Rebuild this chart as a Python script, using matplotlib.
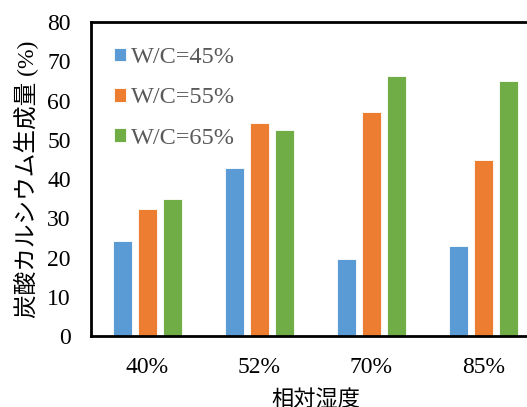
import numpy as np
import matplotlib
matplotlib.use("Agg")
import matplotlib.pyplot as plt

plt.rcParams['font.family'] = ['Liberation Serif', 'Noto Sans CJK JP']

# 相対湿度ごとの炭酸カルシウム生成量
humidity = ["40%", "52%", "70%", "85%"]
series_names = ["W/C=45%", "W/C=55%", "W/C=65%"]
wc45 = [24.1, 42.7, 19.5, 23.0]
wc55 = [32.4, 54.3, 57.1, 44.8]
wc65 = [34.9, 52.6, 66.2, 65.1]
colors = ["#5B9BD5", "#ED7D31", "#70AD47"]

fig = plt.figure(figsize=(5.27, 4.07), dpi=100)
ax = fig.add_axes([0.1736, 0.1744, 0.850, 0.7715])

x = np.arange(len(humidity))
width = 0.17
step = 0.22
for i, (vals, name, c) in enumerate(zip([wc45, wc55, wc65], series_names, colors)):
    ax.bar(x + (i - 1) * step, vals, width, color=c, label=name,
           edgecolor="white", linewidth=0.6)

ax.set_xlim(-0.5, 3.5)
ax.set_ylim(0, 80)
ax.set_yticks(range(0, 81, 10))
ax.set_xticks(x)
ax.set_xticklabels(humidity)
ax.tick_params(axis="both", length=0, labelsize=17)
ax.tick_params(axis="x", pad=15)
ax.tick_params(axis="y", pad=15)

for side in ["left", "bottom", "top"]:
    ax.spines[side].set_linewidth(2)
    ax.spines[side].set_color("black")
ax.spines["right"].set_visible(False)

ax.set_ylabel("炭酸カルシウム生成量 (%)", fontsize=17)
ax.yaxis.set_label_coords(-0.118, 0.5)
ax.set_xlabel("相対湿度", fontsize=16)
ax.xaxis.set_label_coords(0.5, -0.172)

leg = ax.legend(loc="upper left", bbox_to_anchor=(0.05, 0.92), frameon=False,
                fontsize=17.5, handlelength=0.49, handleheight=0.49,
                handletextpad=0.22, labelspacing=0.79, borderaxespad=0,
                borderpad=0)
for t in leg.get_texts():
    t.set_color("#595959")

fig.savefig("out.png", dpi=100)
